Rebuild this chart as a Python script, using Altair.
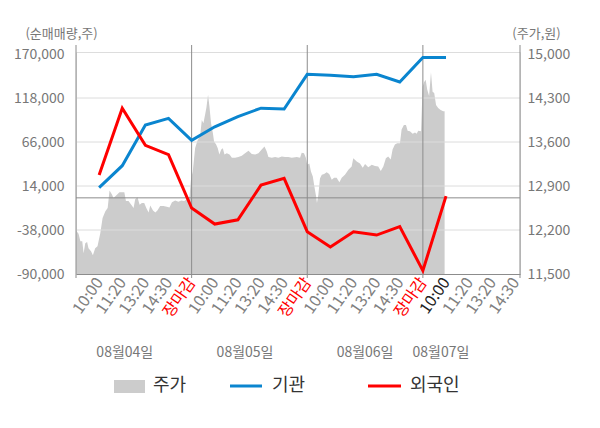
import json
import altair as alt
import pandas as pd

FONT = "Noto Sans CJK KR"

# ---- data -------------------------------------------------------------
x_labels = ["10:00", "11:20", "13:20", "14:30", "장마감",
            "10:00", "11:20", "13:20", "14:30", "장마감",
            "10:00", "11:20", "13:20", "14:30", "장마감",
            "10:00", "11:20", "13:20", "14:30"]
x_ticks = list(range(1, 20))
X_MAX = 19.2

line_slot = list(range(1, 17))
inst = [12000, 38000, 86000, 94000, 68000, 84000, 96000, 106000, 105000,
        146000, 145000, 143000, 146000, 137000, 166000, 166000]
foreign = [27000, 106000, 62000, 51000, -12000, -31000, -26000, 15000, 23000,
           -40000, -58000, -40000, -44000, -34000, -86000, 2000]

price_slot = [
    0.01, 0.11, 0.19, 0.27, 0.33, 0.40, 0.48, 0.54, 0.65, 0.73,
    0.83, 0.93, 1.05, 1.15, 1.27, 1.37, 1.45, 1.56, 1.62, 1.77,
    1.88, 1.99, 2.09, 2.16, 2.27, 2.39, 2.49, 2.56, 2.66, 2.75,
    2.85, 2.95, 3.04, 3.14, 3.21, 3.33, 3.43, 3.52, 3.64, 3.78,
    3.93, 4.04, 4.15, 4.29, 4.43, 4.55, 4.68, 4.79, 4.91, 4.97,
    5.05, 5.15, 5.25, 5.37, 5.44, 5.51, 5.59, 5.64, 5.71, 5.77,
    5.84, 5.92, 5.97, 6.06, 6.13, 6.20, 6.28, 6.35, 6.42, 6.52,
    6.64, 6.74, 6.88, 7.02, 7.17, 7.31, 7.46, 7.60, 7.75, 7.89,
    8.03, 8.15, 8.25, 8.32, 8.47, 8.61, 8.75, 8.90, 9.04, 9.18,
    9.33, 9.55, 9.69, 9.76, 9.86, 9.94, 10.00, 10.09, 10.16, 10.24,
    10.31, 10.38, 10.42, 10.48, 10.55, 10.63, 10.73, 10.84, 10.95, 11.06,
    11.16, 11.27, 11.39, 11.49, 11.63, 11.78, 11.92, 11.99, 12.14, 12.28,
    12.40, 12.50, 12.64, 12.79, 12.93, 13.07, 13.18, 13.29, 13.40, 13.50,
    13.61, 13.69, 13.79, 13.89, 14.01, 14.08, 14.18, 14.27, 14.34, 14.44,
    14.56, 14.66, 14.73, 14.80, 14.92, 14.99, 15.05, 15.12, 15.19, 15.27,
    15.35, 15.42, 15.49, 15.57, 15.66, 15.77, 15.88, 15.94]
price_won = [
    12190, 12140, 12020, 12020, 11830, 11990, 12010, 11910, 11860, 11800,
    11910, 11940, 12150, 12390, 12500, 12550, 12830, 12760, 12710, 12760,
    12800, 12800, 12800, 12660, 12660, 12600, 12550, 12690, 12720, 12600,
    12630, 12630, 12550, 12480, 12590, 12510, 12480, 12510, 12580, 12580,
    12570, 12560, 12640, 12670, 12650, 12670, 12660, 12690, 12730, 13000,
    13130, 13500, 13620, 13700, 13950, 13900, 14050, 14150, 14350, 14170,
    13900, 13740, 13610, 13560, 13500, 13400, 13480, 13500, 13400, 13420,
    13400, 13350, 13350, 13360, 13380, 13420, 13460, 13410, 13400, 13420,
    13480, 13530, 13450, 13360, 13350, 13360, 13350, 13370, 13360, 13360,
    13350, 13360, 13350, 13430, 13420, 13350, 13240, 13260, 13130, 13050,
    12890, 12740, 12630, 12760, 13020, 13080, 13090, 13120, 13090, 13000,
    13030, 13030, 12960, 13030, 13080, 13160, 13210, 13340, 13290, 13260,
    13190, 13250, 13200, 13240, 13220, 13210, 13140, 13210, 13340, 13370,
    13320, 13480, 13560, 13580, 13580, 13800, 13870, 13870, 13780, 13770,
    13730, 13750, 13730, 13780, 13770, 14480, 14550, 14590, 14430, 14330,
    14710, 14400, 14380, 14190, 14140, 14110, 14090, 14090]

dates = ["08월04일", "08월05일", "08월06일", "08월07일"]
date_slot = [2.11, 7.31, 12.5, 15.78]

left_ticks = [170000, 118000, 66000, 14000, -38000, -90000]
right_ticks = [15000, 14300, 13600, 12900, 12200, 11500]
day_lines = [0, 5, 10, 15, X_MAX]

series_names = ["기관", "외국인"]
series_colors = ["#0a85cf", "#ff0000"]
legend_labels = ["주가", "기관", "외국인"]

# ---- frames -----------------------------------------------------------
price_df = pd.DataFrame({"slot": price_slot, "price": price_won})
lines_df = pd.concat([
    pd.DataFrame({"slot": line_slot, "value": inst, "series": series_names[0]}),
    pd.DataFrame({"slot": line_slot, "value": foreign, "series": series_names[1]}),
])
grid_df = pd.DataFrame({"value": left_ticks[1:-1]})
zero_df = pd.DataFrame({"value": [0]})
vline_df = pd.DataFrame({"slot": day_lines})
date_df = pd.DataFrame({"slot": date_slot, "label": dates})

xs = alt.Scale(domain=[0, X_MAX], nice=False, zero=False)
ys_left = alt.Scale(domain=[-90000, 172364], nice=False, zero=False)
ys_right = alt.Scale(domain=[11500, 15032], nice=False, zero=False)

num_expr = "(datum.value < 0 ? '-' : '') + format(abs(datum.value), ',')"

x_axis = alt.Axis(
    values=x_ticks,
    labelExpr=json.dumps(x_labels, ensure_ascii=False) + "[datum.value - 1]",
    labelAngle=305, labelFontSize=16, labelFont=FONT,
    labelColor={"condition": [
        {"test": "datum.value % 5 == 0", "value": "#ff0000"},
        {"test": "datum.value == 16", "value": "#222222"}],
        "value": "#808080"},
    labelOverlap=False, labelFlush=False, labelPadding=5,
    ticks=False, grid=False, domainColor="#8c8c8c", title=None,
)
left_axis = alt.Axis(
    orient="left", values=left_ticks, labelExpr=num_expr,
    grid=False, ticks=False, domain=False, labelPadding=12,
    labelFontSize=14, labelColor="#777777", labelFont=FONT,
    title="(순매매량,주)", titleAngle=0, titleX=-15, titleY=-19,
    titleAlign="center", titleBaseline="middle", titleFontSize=13,
    titleFontWeight="normal", titleColor="#777777", titleFont=FONT)
right_axis = alt.Axis(
    orient="right", values=right_ticks, labelExpr=num_expr,
    grid=False, ticks=False, domain=False, labelPadding=7,
    labelFontSize=14, labelColor="#777777", labelFont=FONT,
    title="(주가,원)", titleAngle=0, titleX=16, titleY=-19,
    titleAlign="center", titleBaseline="middle", titleFontSize=13,
    titleFontWeight="normal", titleColor="#777777", titleFont=FONT)

X = alt.X("slot:Q", scale=xs, axis=x_axis)
YL = alt.Y("value:Q", scale=ys_left, axis=left_axis)

area = alt.Chart(price_df).mark_area(color="#cccccc", opacity=1).encode(
    x=X,
    y=alt.Y("price:Q", scale=ys_right, axis=right_axis),
    y2=alt.datum(11500),
)

grid = alt.Chart(grid_df).mark_rule(color="#dcdcdc", strokeWidth=1).encode(y=YL)
vlines = alt.Chart(vline_df).mark_rule(color="#8c8c8c", strokeWidth=1).encode(
    x=X, y=alt.value(-7), y2=alt.value(226))
zero = alt.Chart(zero_df).mark_rule(color="#8c8c8c", strokeWidth=1).encode(y=YL)
lines = alt.Chart(lines_df).mark_line(strokeWidth=3).encode(
    x=X, y=YL,
    color=alt.Color("series:N", scale=alt.Scale(domain=series_names, range=series_colors),
                    legend=None),
    detail="series:N",
)
inner = alt.layer(grid, vlines, zero, lines)

date_text = alt.Chart(date_df).mark_text(
    font=FONT, fontSize=14, color="#777777", baseline="middle", align="center"
).encode(x=X, y=alt.value(301), text="label:N")

lg0 = pd.DataFrame({"label": [legend_labels[0]]})
lg1 = pd.DataFrame({"label": [legend_labels[1]]})
lg2 = pd.DataFrame({"label": [legend_labels[2]]})
sw = alt.Chart(lg0).mark_rect(color="#cccccc").encode(
    x=alt.value(38), x2=alt.value(69), y=alt.value(328), y2=alt.value(341))
sb = alt.Chart(lg1).mark_rule(color=series_colors[0], strokeWidth=3).encode(
    x=alt.value(154), x2=alt.value(186), y=alt.value(334))
sr = alt.Chart(lg2).mark_rule(color=series_colors[1], strokeWidth=3).encode(
    x=alt.value(292), x2=alt.value(325), y=alt.value(334))
tstyle = dict(font=FONT, fontSize=18, color="#333333", align="left", baseline="middle")
t0 = alt.Chart(lg0).mark_text(**tstyle).encode(x=alt.value(77), y=alt.value(334), text="label:N")
t1 = alt.Chart(lg1).mark_text(**tstyle).encode(x=alt.value(196), y=alt.value(334), text="label:N")
t2 = alt.Chart(lg2).mark_text(**tstyle).encode(x=alt.value(334), y=alt.value(334), text="label:N")

chart = alt.layer(area, inner, date_text, sw, sb, sr, t0, t1, t2).resolve_scale(
    y="independent"
).properties(
    width=444, height=222,
    autosize=alt.AutoSizeParams(type="none"),
    padding={"left": 68, "top": 44, "right": 72, "bottom": 150},
).configure_view(stroke=None, fill="#f4f4f4").configure(font=FONT)

chart.save("out.html", embed_options={"renderer": "svg", "actions": False})
